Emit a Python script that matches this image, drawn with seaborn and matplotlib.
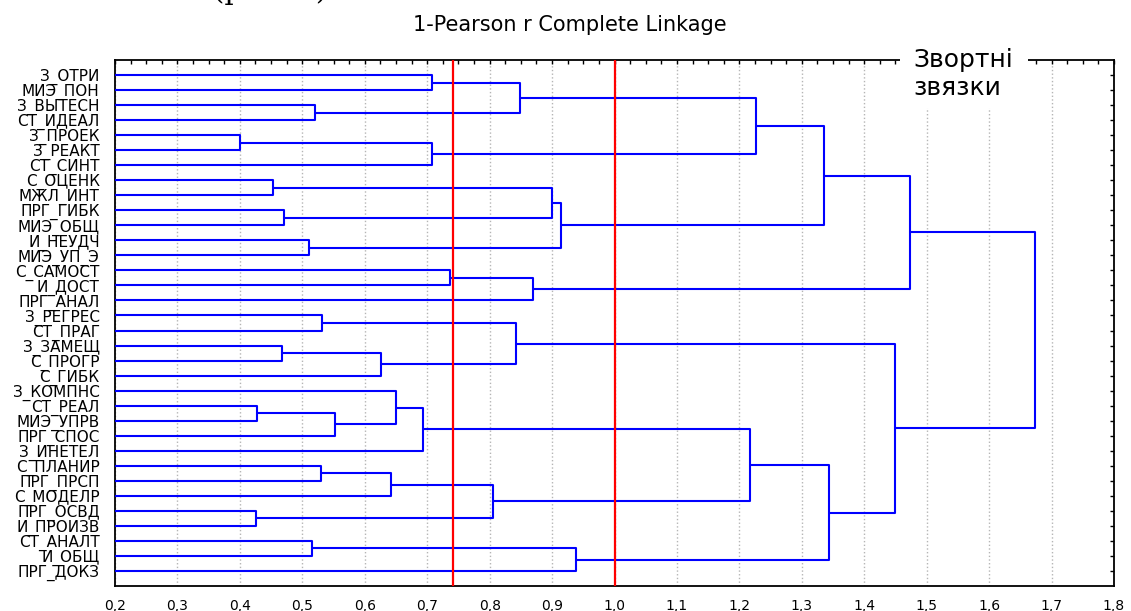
import numpy as np
import pandas as pd
import matplotlib
matplotlib.use("Agg")
import matplotlib.pyplot as plt
from matplotlib.patches import Rectangle
from matplotlib.ticker import MultipleLocator
import seaborn as sns

# ---------------- data ----------------
title = "1-Pearson r Complete Linkage"
leaf_labels = [
    "З_ОТРИ", "МИЭ_ПОН", "З_ВЫТЕСН", "СТ_ИДЕАЛ", "З_ПРОЕК", "З_РЕАКТ", "СТ_СИНТ",
    "С_ОЦЕНК", "МЖЛ_ИНТ", "ПРГ_ГИБК", "МИЭ_ОБЩ", "И_НЕУДЧ", "МИЭ_УП_Э",
    "С_САМОСТ", "И_ДОСТ", "ПРГ_АНАЛ", "З_РЕГРЕС", "СТ_ПРАГ", "З_ЗАМЕЩ",
    "С_ПРОГР", "С_ГИБК", "З_КОМПНС", "СТ_РЕАЛ", "МИЭ_УПРВ", "ПРГ_СПОС",
    "З_ИНЕТЕЛ", "С_ПЛАНИР", "ПРГ_ПРСП", "С_МОДЕЛР", "ПРГ_ОСВД", "И_ПРОИЗВ",
    "СТ_АНАЛТ", "И_ОБЩ", "ПРГ_ДОКЗ",
]
# linkage: node ids < 34 are leaves, id 34 + k is the k-th merge
link_a = [0, 2, 4, 36, 7, 9, 11, 13, 41, 34, 38, 44, 43, 46, 47,
          16, 18, 50, 49, 22, 53, 21, 55, 26, 57, 29, 58, 56, 31, 62, 61, 52, 48]
link_b = [1, 3, 5, 6, 8, 10, 12, 14, 15, 35, 39, 40, 37, 45, 42,
          17, 19, 20, 51, 23, 24, 54, 25, 27, 28, 30, 59, 60, 32, 33, 63, 64, 65]
link_h = [0.707, 0.520, 0.401, 0.708, 0.453, 0.470, 0.510, 0.736, 0.870, 0.848,
          0.900, 0.914, 1.226, 1.336, 1.474,
          0.531, 0.467, 0.626, 0.842, 0.428, 0.552, 0.650, 0.694, 0.530, 0.642,
          0.426, 0.806, 1.217, 0.515, 0.938, 1.343, 1.450, 1.674]
cut_lines = [0.742, 1.0]
xtick_values = [0.2, 0.3, 0.4, 0.5, 0.6, 0.7, 0.8, 0.9, 1.0, 1.1, 1.2, 1.3,
                1.4, 1.5, 1.6, 1.7, 1.8]
xtick_labels = ["0,2", "0,3", "0,4", "0,5", "0,6", "0,7", "0,8", "0,9", "1,0",
                "1,1", "1,2", "1,3", "1,4", "1,5", "1,6", "1,7", "1,8"]
note_lines = ["Звортні", "звязки"]
caption_fragment = "(рис. 3)"

# ---------------- build dendrogram segments ----------------
n = len(leaf_labels)
pos = {i: float(i) for i in range(n)}
hgt = {i: 0.0 for i in range(n)}
rows = []
for k, (a, b, h) in enumerate(zip(link_a, link_b, link_h)):
    node = n + k
    pos[node] = (pos[a] + pos[b]) / 2.0
    hgt[node] = h
    pts = [(hgt[a], pos[a]), (h, pos[a]), (h, pos[b]), (hgt[b], pos[b])]
    for j, (x, y) in enumerate(pts):
        rows.append({"seg": k, "order": j, "x": x, "y": y})
df = pd.DataFrame(rows)

# ---------------- figure ----------------
sns.set_style("white")
plt.rcParams["font.family"] = ["DejaVu Sans"]
plt.rcParams["text.color"] = "black"
plt.rcParams["xtick.color"] = "black"
plt.rcParams["ytick.color"] = "black"
plt.rcParams["xtick.labelcolor"] = "black"
plt.rcParams["ytick.labelcolor"] = "black"

W, H = 1131, 611
fig = plt.figure(figsize=(W / 100, H / 100), dpi=100)
ax = fig.add_axes([115 / W, 1 - 586 / H, (1114 - 115) / W, (586 - 60) / H])

sns.lineplot(data=df, x="x", y="y", units="seg", estimator=None, sort=False,
             color="#0000ff", linewidth=1.5, legend=False, ax=ax, zorder=3)

for c in cut_lines:
    ax.axvline(c, color="#ff0000", linewidth=1.6, zorder=4)

ax.set_xlim(0.2, 1.8)
ax.set_ylim(n, -1)
ax.set_xlabel("")
ax.set_ylabel("")

ax.set_xticks(xtick_values)
ax.set_xticklabels(xtick_labels, fontsize=10)
ax.xaxis.set_minor_locator(MultipleLocator(0.025))
ax.set_yticks(range(n))
ax.set_yticklabels(leaf_labels, fontsize=11)

ax.tick_params(axis="both", which="both", direction="in", top=True, right=True,
               length=3, width=1, color="black", labelcolor="black")
ax.tick_params(axis="x", which="major", pad=9)
ax.tick_params(axis="y", which="major", pad=11)

ax.grid(axis="x", which="major", linestyle=":", color="#b5b5b5", linewidth=1)
ax.set_axisbelow(True)
for s in ax.spines.values():
    s.set_color("black")
    s.set_linewidth(1.3)

# title
fig.text(570 / W, 1 - 31 / H, title, ha="center", va="baseline", fontsize=15,
         color="black")

# note box over top spine
rect = Rectangle((900 / W, 1 - 108 / H), 128 / W, 63 / H, transform=fig.transFigure,
                 facecolor="white", edgecolor="none", zorder=5)
fig.add_artist(rect)
fig.text(913 / W, 1 - 66.7 / H, note_lines[0], ha="left", va="baseline",
         fontsize=18, zorder=6, color="black")
fig.text(913 / W, 1 - 95 / H, note_lines[1], ha="left", va="baseline",
         fontsize=18, zorder=6, color="black")

# cropped caption fragment at the very top (only its descenders show)
fig.text(213 / W, 1 + 1 / H, caption_fragment, ha="left", va="baseline",
         fontsize=21, family="DejaVu Serif", color="black")

fig.savefig("out.png", dpi=100)
